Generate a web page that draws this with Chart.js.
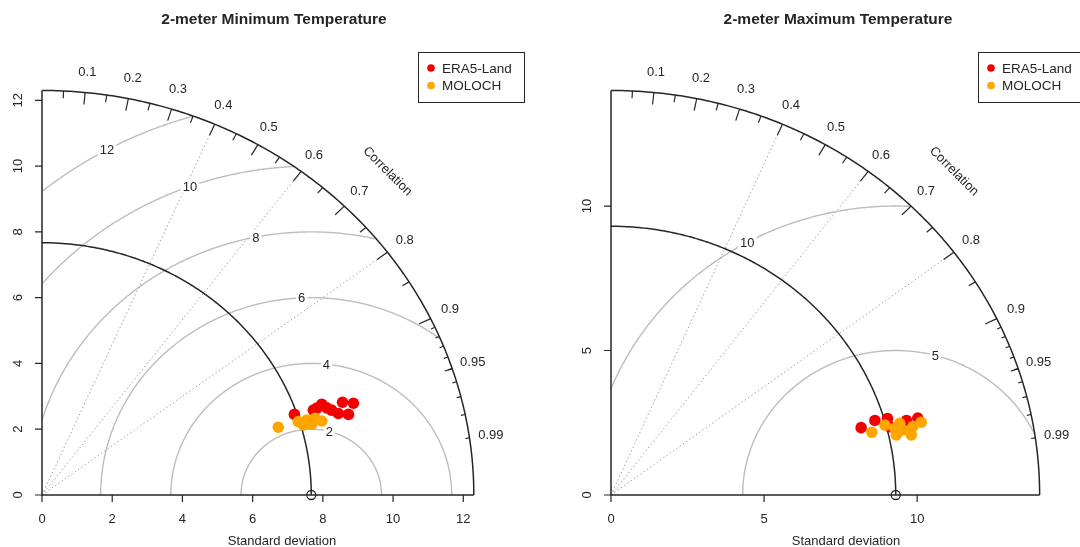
<!DOCTYPE html>
<html lang="en">
<head>
<meta charset="utf-8" />
<title>Taylor diagrams - 2-meter temperature</title>
<script src="https://cdn.jsdelivr.net/npm/chart.js@4.4.0/dist/chart.umd.min.js"></script>
<style>
  html, body { margin: 0; padding: 0; background: #fff; overflow: hidden; }
  .wrap { position: relative; width: 1080px; height: 547px; }
  canvas { position: absolute; top: 0; }
</style>
</head>
<body>
<div class="wrap">
  <canvas id="tmin" width="540" height="547" style="left:0"></canvas>
  <canvas id="tmax" width="540" height="547" style="left:540px"></canvas>
</div>
<script>
const seriesNames = ['ERA5-Land', 'MOLOCH'];
const seriesColors = ['#f20000', '#ffa500'];
const corrTickLabels = [0.1, 0.2, 0.3, 0.4, 0.5, 0.6, 0.7, 0.8, 0.9, 0.95, 0.99];
const corrGridLines = [0.4, 0.6, 0.8];

// minimum temperature panel
const tminTitle = '2-meter Minimum Temperature';
const tminRefSd = 7.67;
const tminMaxSd = 12.3;
const tminSdTicks = [0, 2, 4, 6, 8, 10, 12];
const tminRmsLevels = [2, 4, 6, 8, 10, 12];
const tminEraX = [7.19, 7.73, 7.97, 8.25, 8.56, 8.87, 8.73, 8.44, 8.11, 7.83];
const tminEraY = [2.45, 2.58, 2.76, 2.58, 2.82, 2.79, 2.45, 2.48, 2.65, 2.64];
const tminMolochX = [6.73, 7.30, 7.54, 7.78, 7.97, 7.44, 7.68];
const tminMolochY = [2.06, 2.23, 2.28, 2.33, 2.25, 2.13, 2.15];

// maximum temperature panel
const tmaxTitle = '2-meter Maximum Temperature';
const tmaxRefSd = 9.3;
const tmaxMaxSd = 14;
const tmaxSdTicks = [0, 5, 10];
const tmaxRmsLevels = [5, 10];
const tmaxEraX = [8.17, 8.62, 9.03, 9.11, 9.65, 10.02];
const tmaxEraY = [2.33, 2.58, 2.65, 2.36, 2.58, 2.66];
const tmaxMolochX = [8.52, 8.95, 9.27, 9.32, 9.54, 9.81, 9.86, 10.13, 9.43];
const tmaxMolochY = [2.17, 2.42, 2.31, 2.08, 2.25, 2.08, 2.37, 2.52, 2.48];

const FONT = '"Liberation Sans", Arial, Helvetica, sans-serif';
const INK = '#262626';

const zip = (xs, ys) => xs.map((x, i) => ({ x: x, y: ys[i] }));

const taylorPlugin = {
    id: 'taylor',
    beforeDatasetsDraw(chart, args, o) {
        const ctx = chart.ctx, sx = chart.scales.x, sy = chart.scales.y;
        const P = (x, y) => [sx.getPixelForValue(x), sy.getPixelForValue(y)];
        const path = (pts) => {
            ctx.beginPath();
            pts.forEach((p, i) => {
                const q = P(p[0], p[1]);
                if (i) ctx.lineTo(q[0], q[1]); else ctx.moveTo(q[0], q[1]);
            });
            ctx.stroke();
        };
        const quarter = (r) => {
            const pts = [];
            for (let i = 0; i <= 240; i++) {
                const t = Math.PI / 2 * i / 240;
                pts.push([r * Math.cos(t), r * Math.sin(t)]);
            }
            return pts;
        };
        const R = o.maxSd;
        ctx.save();

        // centred RMS difference curves
        ctx.strokeStyle = '#bdbdbd';
        ctx.lineWidth = 1.4;
        o.rms.forEach(g => {
            let seg = [];
            for (let i = 0; i <= 800; i++) {
                const t = Math.PI * i / 800;
                const x = o.ref + g * Math.cos(t), y = g * Math.sin(t);
                if (x >= 0 && x * x + y * y <= R * R) seg.push([x, y]);
                else if (seg.length) { path(seg); seg = []; }
            }
            if (seg.length) path(seg);
        });

        // correlation grid lines
        ctx.setLineDash([1.5, 2.5]);
        ctx.strokeStyle = '#a0a0a0';
        ctx.lineWidth = 1;
        corrGridLines.forEach(c => path([[0, 0], [R * c, R * Math.sqrt(1 - c * c)]]));
        ctx.setLineDash([]);

        // RMS labels on white boxes
        ctx.font = '13px ' + FONT;
        ctx.textAlign = 'center';
        ctx.textBaseline = 'middle';
        o.rms.forEach((g, i) => {
            const n = o.rms.length;
            const a = (75 + (n > 1 ? 44 * i / (n - 1) : 0)) * Math.PI / 180;
            const x = o.ref + g * Math.cos(a), y = g * Math.sin(a);
            if (x <= 0) return;
            const q = P(x, y);
            const w = ctx.measureText(String(g)).width + 4;
            ctx.fillStyle = '#fff';
            ctx.fillRect(q[0] - w / 2, q[1] - 7, w, 14);
            ctx.fillStyle = INK;
            ctx.fillText(String(g), q[0], q[1] + 1);
        });

        // reference sd arc, outer arc, axes
        ctx.strokeStyle = INK;
        ctx.lineWidth = 1.5;
        path(quarter(o.ref));
        path(quarter(R));
        path([[0, R], [0, 0], [R, 0]]);

        // correlation ticks
        ctx.lineWidth = 1.2;
        const tick = (c, f) => {
            const a = Math.acos(c);
            path([[R * Math.cos(a), R * Math.sin(a)], [f * R * Math.cos(a), f * R * Math.sin(a)]]);
        };
        for (let i = 1; i <= 9; i++) tick(i / 10, 0.97);
        for (let i = 0; i < 10; i++) tick(0.05 + i / 10, 0.982);
        for (let i = 1; i <= 9; i++) tick(0.9 + i / 100, 0.99);

        // correlation labels
        ctx.fillStyle = INK;
        corrTickLabels.forEach(c => {
            const a = Math.acos(c);
            const q = P(1.05 * R * Math.cos(a), 1.05 * R * Math.sin(a));
            ctx.fillText(String(c), q[0], q[1]);
        });
        const cq = P(0.8 * R, 0.8 * R);
        ctx.save();
        ctx.translate(cq[0], cq[1]);
        ctx.rotate(Math.PI / 4);
        ctx.fillText('Correlation', 0, 0);
        ctx.restore();

        // sd axis ticks and labels
        const [ox, oy] = P(0, 0);
        ctx.lineWidth = 1.2;
        o.sdTicks.forEach(v => {
            const [tx] = P(v, 0);
            const [, ty] = P(0, v);
            ctx.beginPath();
            ctx.moveTo(tx, oy); ctx.lineTo(tx, oy + 7);
            ctx.moveTo(ox, ty); ctx.lineTo(ox - 7, ty);
            ctx.stroke();
            ctx.fillText(String(v), tx, oy + 24);
            ctx.save();
            ctx.translate(ox - 24, ty);
            ctx.rotate(-Math.PI / 2);
            ctx.fillText(String(v), 0, 0);
            ctx.restore();
        });

        // observed reference point
        const rq = P(o.ref, 0);
        ctx.lineWidth = 1.3;
        ctx.beginPath();
        ctx.arc(rq[0], rq[1], 4.5, 0, Math.PI * 2);
        ctx.stroke();

        ctx.restore();
    },
    afterDraw(chart, args, o) {
        const ctx = chart.ctx;
        ctx.save();
        ctx.fillStyle = INK;
        ctx.textAlign = 'center';
        ctx.textBaseline = 'middle';
        ctx.font = 'bold 15.5px ' + FONT;
        ctx.fillText(o.title, o.centerX, 20);
        ctx.font = '13px ' + FONT;
        ctx.fillText('Standard deviation', o.centerX + 8, 541);

        // legend box
        const lx = o.legendX, ly = 52;
        ctx.strokeStyle = INK;
        ctx.lineWidth = 1;
        ctx.fillStyle = '#fff';
        ctx.fillRect(lx, ly, 106, 50);
        ctx.strokeRect(lx + 0.5, ly + 0.5, 106, 50);
        ctx.textAlign = 'left';
        ctx.font = '13.5px ' + FONT;
        seriesNames.forEach((name, i) => {
            const y = ly + 16 + i * 17.5;
            ctx.fillStyle = seriesColors[i];
            ctx.beginPath();
            ctx.arc(lx + 13, y, 3.8, 0, Math.PI * 2);
            ctx.fill();
            ctx.fillStyle = INK;
            ctx.fillText(name, lx + 24, y + 1);
        });
        ctx.restore();
    }
};

function makeTaylor(id, cfg) {
    return new Chart(document.getElementById(id), {
        type: 'scatter',
        data: {
            datasets: [
                { label: seriesNames[0], data: zip(cfg.eraX, cfg.eraY), backgroundColor: seriesColors[0], order: 1 },
                { label: seriesNames[1], data: zip(cfg.molX, cfg.molY), backgroundColor: seriesColors[1], order: 0 }
            ]
        },
        options: {
            responsive: false,
            animation: false,
            devicePixelRatio: 1,
            layout: { padding: cfg.padding },
            elements: { point: { radius: 5.8, borderWidth: 0, hoverRadius: 5.8 } },
            scales: {
                x: { type: 'linear', display: false, min: 0, max: cfg.xMax },
                y: { type: 'linear', display: false, min: 0, max: cfg.yMax }
            },
            plugins: {
                legend: { display: false },
                tooltip: { enabled: false },
                taylor: {
                    title: cfg.title, ref: cfg.ref, maxSd: cfg.maxSd, rms: cfg.rms,
                    sdTicks: cfg.sdTicks, centerX: cfg.centerX, legendX: cfg.legendX
                }
            }
        },
        plugins: [taylorPlugin]
    });
}

makeTaylor('tmin', {
    title: tminTitle, ref: tminRefSd, maxSd: tminMaxSd, rms: tminRmsLevels, sdTicks: tminSdTicks,
    eraX: tminEraX, eraY: tminEraY, molX: tminMolochX, molY: tminMolochY,
    padding: { left: 42, right: 23, top: 50, bottom: 52 },
    xMax: tminMaxSd * 1.1, yMax: tminMaxSd * 1.1, centerX: 274, legendX: 418
});

makeTaylor('tmax', {
    title: tmaxTitle, ref: tmaxRefSd, maxSd: tmaxMaxSd, rms: tmaxRmsLevels, sdTicks: tmaxSdTicks,
    eraX: tmaxEraX, eraY: tmaxEraY, molX: tmaxMolochX, molY: tmaxMolochY,
    padding: { left: 71, right: 0, top: 50, bottom: 52 },
    xMax: 469 / 31, yMax: tmaxMaxSd * 1.1, centerX: 298, legendX: 438
});
</script>
</body>
</html>
